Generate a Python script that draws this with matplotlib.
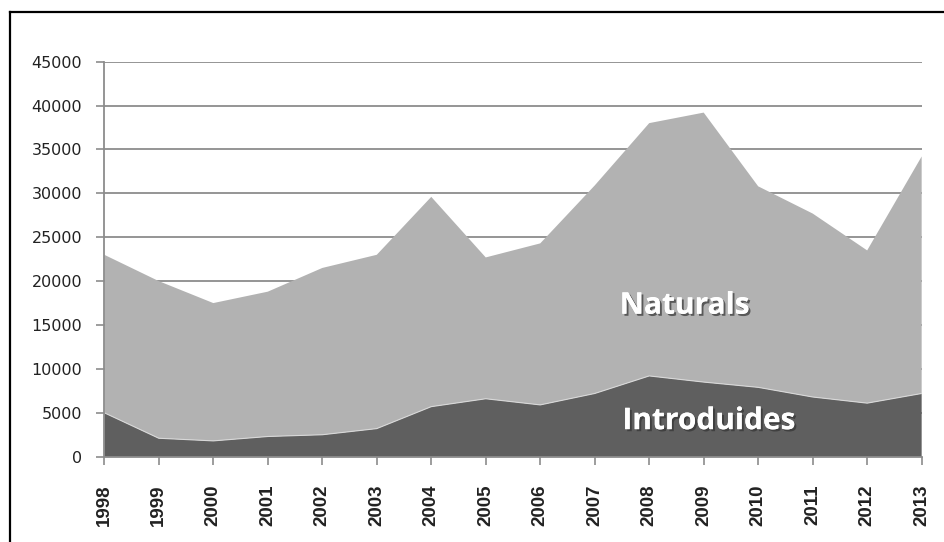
import matplotlib
matplotlib.use("Agg")
from matplotlib import pyplot as plt
from matplotlib.lines import Line2D
import matplotlib.patheffects as pe
import numpy as np

years = list(range(1998, 2014))
introduides = [5000, 2100, 1800, 2300, 2500, 3200, 5700, 6600, 5900, 7200, 9200, 8500, 7900, 6800, 6100, 7200]
total = [23000, 20000, 17500, 18800, 21500, 23000, 29600, 22700, 24300, 30900, 38000, 39200, 30800, 27700, 23500, 34200]
naturals = [t - i for t, i in zip(total, introduides)]

fig = plt.figure(figsize=(9.45, 5.42), dpi=100)
ax = fig.add_axes([0.1104, 0.1574, 0.8649, 0.7288])

ax.stackplot(years, introduides, naturals, colors=["#5f5f5f", "#b2b2b2"],
             edgecolor="none", zorder=2)
# thin light line between the two layers
ax.plot(years, introduides, color="#d8d8d8", lw=0.8, zorder=3)

ax.set_xlim(1998, 2013)
ax.set_ylim(0, 45000)
ax.set_yticks(np.arange(0, 45001, 5000))
ax.set_xticks(years)
ax.set_xticklabels([str(y) for y in years], rotation=90,
                   fontfamily="Liberation Sans", fontweight="bold", fontsize=13.5, color="#222222")
for lab in ax.get_yticklabels():
    lab.set_fontsize(11.5)
    lab.set_color("#222222")

ax.yaxis.grid(True, color="#8c8c8c", lw=1.3, zorder=1)
ax.set_axisbelow(True)
for s in ["top", "right"]:
    ax.spines[s].set_visible(False)
for s in ["left", "bottom"]:
    ax.spines[s].set_color("#8c8c8c")
    ax.spines[s].set_linewidth(1.3)
    ax.spines[s].set_zorder(4)
ax.tick_params(axis="both", direction="out", length=6, width=1.2, color="#8c8c8c")
ax.tick_params(axis="y", pad=10)
ax.tick_params(axis="x", pad=14)

shadow = [pe.withSimplePatchShadow(offset=(1.5, -1.5), shadow_rgbFace="#333333", alpha=0.7), pe.Normal()]
ax.text(2008.65, 17200, "Naturals", ha="center", va="center", color="white",
        fontfamily="Open Sans", fontweight="bold", fontsize=21.5, path_effects=shadow, zorder=5)
ax.text(2009.1, 4050, "Introduides", ha="center", va="center", color="white",
        fontfamily="Open Sans", fontweight="bold", fontsize=21.5, path_effects=shadow, zorder=5)

# frame visible at left and top of the picture
fig.add_artist(Line2D([10 / 945, 10 / 945], [0, 1 - 12 / 542], color="black", lw=1.6, transform=fig.transFigure))
fig.add_artist(Line2D([10 / 945, 1], [1 - 12 / 542, 1 - 12 / 542], color="black", lw=1.6, transform=fig.transFigure))

fig.savefig("out.png", dpi=100)
